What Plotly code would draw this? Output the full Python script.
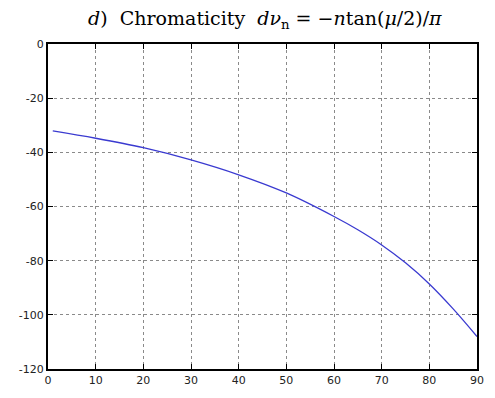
import plotly.graph_objects as go

# Data
mu = [1, 10, 20, 30, 40, 50, 60, 65, 70, 75, 80, 85, 90]
dnu = [-32.1, -34.8, -38.3, -42.8, -48.3, -55.0, -63.7, -68.6, -74.2, -80.8, -88.6, -97.8, -108.0]

x_ticks = [0, 10, 20, 30, 40, 50, 60, 70, 80, 90]
y_ticks = [0, -20, -40, -60, -80, -100, -120]
y_tick_text = ["0", "-20", "-40", "-60", "-80", "-100", "-120"]

title_text = ("<i>d</i>)  Chromaticity  <i>dν</i><sub>n</sub> = −<i>n</i>tan(<i>μ</i>/2)/<i>π</i>")

fig = go.Figure()
fig.add_trace(go.Scatter(
    x=mu, y=dnu, mode="lines",
    line=dict(color="#3a3ad0", width=1.3, shape="spline", smoothing=1.0),
    showlegend=False,
))

axis_common = dict(
    showline=True, linecolor="black", linewidth=2, mirror="ticks",
    ticks="inside", ticklen=5, tickwidth=1, tickcolor="black",
    showgrid=True, gridcolor="#8a8a8a", griddash="dot", gridwidth=1,
    zeroline=False,
    tickfont=dict(family="DejaVu Sans", size=11, color="#222"),
)

fig.update_layout(
    width=495, height=398,
    margin=dict(l=48, r=11, t=44, b=16),
    paper_bgcolor="white", plot_bgcolor="white",
    title=dict(text=title_text, x=0.535, xanchor="center", y=0.955, yanchor="middle",
               font=dict(family="DejaVu Serif", size=19, color="black")),
    xaxis=dict(range=[0, 90], tickvals=x_ticks, ticklabelstandoff=0, **axis_common),
    yaxis=dict(range=[-120, 0], tickvals=y_ticks, ticktext=y_tick_text,
               ticklabelstandoff=0, **axis_common),
)

fig.write_html("out.html")
